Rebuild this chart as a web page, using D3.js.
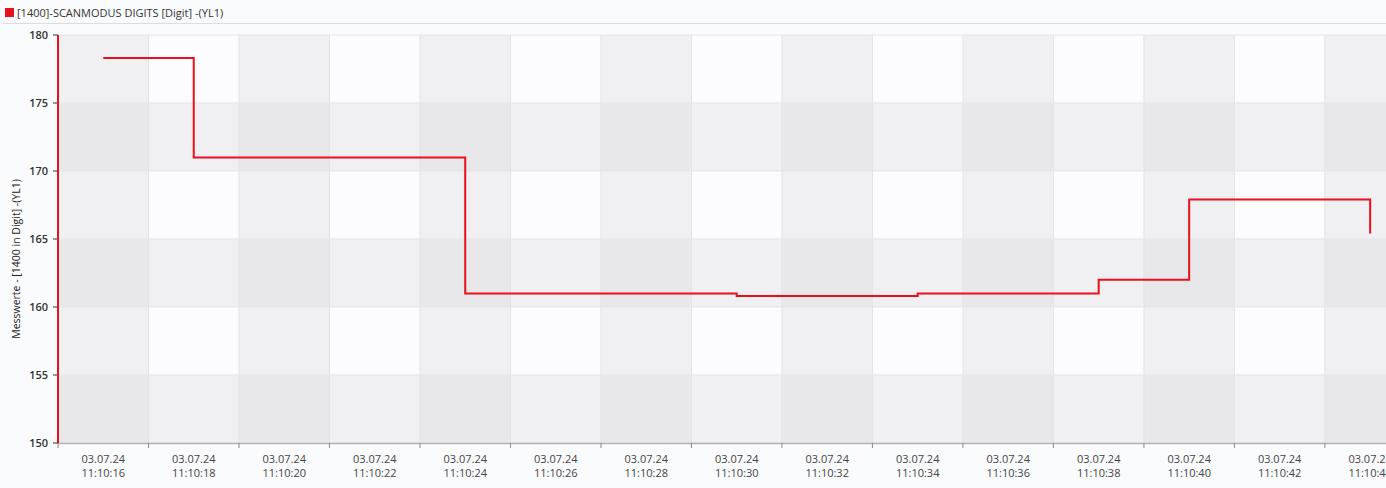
<!DOCTYPE html>
<html><head><meta charset="utf-8">
<script src="https://cdn.jsdelivr.net/npm/d3@7"></script>
<style>
html,body{margin:0;padding:0;background:#fafbfd;}
svg{display:block;font-family:"Open Sans","Noto Sans",sans-serif;}
</style></head><body>
<svg id="c" width="1386" height="488"></svg>
<script>
// ---- data ----
const seriesName = "[1400]-SCANMODUS DIGITS [Digit] -(YL1)";
const yTitle = "Messwerte - [1400 in Digit] -(YL1)";
const dateLabel = "03.07.24";
const sampleTimes = ["11:10:16","11:10:18","11:10:24","11:10:30","11:10:34","11:10:38","11:10:40","11:10:44"];
const sampleValues = [178.3, 171.0, 161.0, 160.8, 161.0, 162.0, 167.9, 165.4];
const tickTimes = ["11:10:16","11:10:18","11:10:20","11:10:22","11:10:24","11:10:26","11:10:28","11:10:30",
                   "11:10:32","11:10:34","11:10:36","11:10:38","11:10:40","11:10:42","11:10:44"];
const yTicks = [150,155,160,165,170,175,180];
const domainStart = "11:10:15";
const domainEndSeconds = 29.35; // visible span in seconds

const parse = s => { const [h,m,sec] = s.split(":").map(Number); return new Date(2024,6,3,h,m,sec); };

const svg = d3.select("#c");
const L = 58, R = 1386, T = 35, B = 443;
const t0 = parse(domainStart);
const x = d3.scaleTime().domain([t0, new Date(+t0 + domainEndSeconds*1000)]).range([L, R]);
const y = d3.scaleLinear().domain([150,180]).range([B, T]);

// legend
svg.append("rect").attr("x",5).attr("y",8).attr("width",9).attr("height",9).attr("fill","#e8101a");
svg.append("text").attr("x",17).attr("y",17).attr("font-size",11).attr("fill","#333").text(seriesName);
svg.append("line").attr("x1",3).attr("x2",1386).attr("y1",23.5).attr("y2",23.5).attr("stroke","#dcdde0");

// checkerboard background
const colEdges = [];
for (let s = 0; ; s += 2) { const d = new Date(+t0 + s*1000); if (x(d) >= R) break; colEdges.push(d); }
const rowEdges = d3.range(180, 150, -5);
const g = svg.append("g");
colEdges.forEach((d, ci) => {
  const x0 = x(d), x1 = Math.min(R, x(new Date(+d + 2000)));
  rowEdges.forEach((v, ri) => {
    const c = (ci % 2 === 0) + (ri % 2 === 1);
    g.append("rect").attr("x",x0).attr("y",y(v)).attr("width",x1-x0).attr("height",y(v-5)-y(v))
      .attr("fill", c === 0 ? "#fcfcfe" : c === 1 ? "#f0f0f2" : "#e8e8eb");
  });
});
// grid lines
colEdges.slice(1).forEach(d => {
  svg.append("line").attr("x1",x(d)).attr("x2",x(d)).attr("y1",T).attr("y2",B).attr("stroke","#e2e3e6");
});
yTicks.forEach(v => {
  svg.append("line").attr("x1",L).attr("x2",R).attr("y1",y(v)).attr("y2",y(v)).attr("stroke","#e4e5e8");
});

// x axis
svg.append("line").attr("x1",L).attr("x2",R).attr("y1",B+0.5).attr("y2",B+0.5).attr("stroke","#b4b4b8").attr("stroke-width",1.5);
colEdges.forEach(d => {
  svg.append("line").attr("x1",x(d)).attr("x2",x(d)).attr("y1",B).attr("y2",B+5).attr("stroke","#8a8a8e");
});
tickTimes.forEach(s => {
  const xx = x(parse(s));
  const t = svg.append("text").attr("text-anchor","middle").attr("font-size",11).attr("fill","#444");
  t.append("tspan").attr("x",xx).attr("y",463).text(dateLabel);
  t.append("tspan").attr("x",xx).attr("y",477).text(s);
});

// y axis
yTicks.forEach(v => {
  svg.append("line").attr("x1",L-5).attr("x2",L).attr("y1",y(v)).attr("y2",y(v)).attr("stroke","#333");
  svg.append("text").attr("x",L-10).attr("y",y(v)+4).attr("text-anchor","end").attr("font-size",11)
    .attr("font-weight",600).attr("fill","#333").text(v);
});
svg.append("line").attr("x1",L).attr("x2",L).attr("y1",T).attr("y2",B).attr("stroke","#e8101a").attr("stroke-width",2);
svg.append("text").attr("transform",`translate(20,${(T+B)/2+20}) rotate(-90)`).attr("text-anchor","middle")
  .attr("font-size",10.5).attr("fill","#222").text(yTitle);

// series
const pts = sampleTimes.map((s,i) => [parse(s), sampleValues[i]]);
svg.append("path").datum(pts)
  .attr("d", d3.line().x(d => x(d[0])).y(d => y(d[1])).curve(d3.curveStepAfter))
  .attr("fill","none").attr("stroke","#e8101a").attr("stroke-width",2);
</script></body></html>
